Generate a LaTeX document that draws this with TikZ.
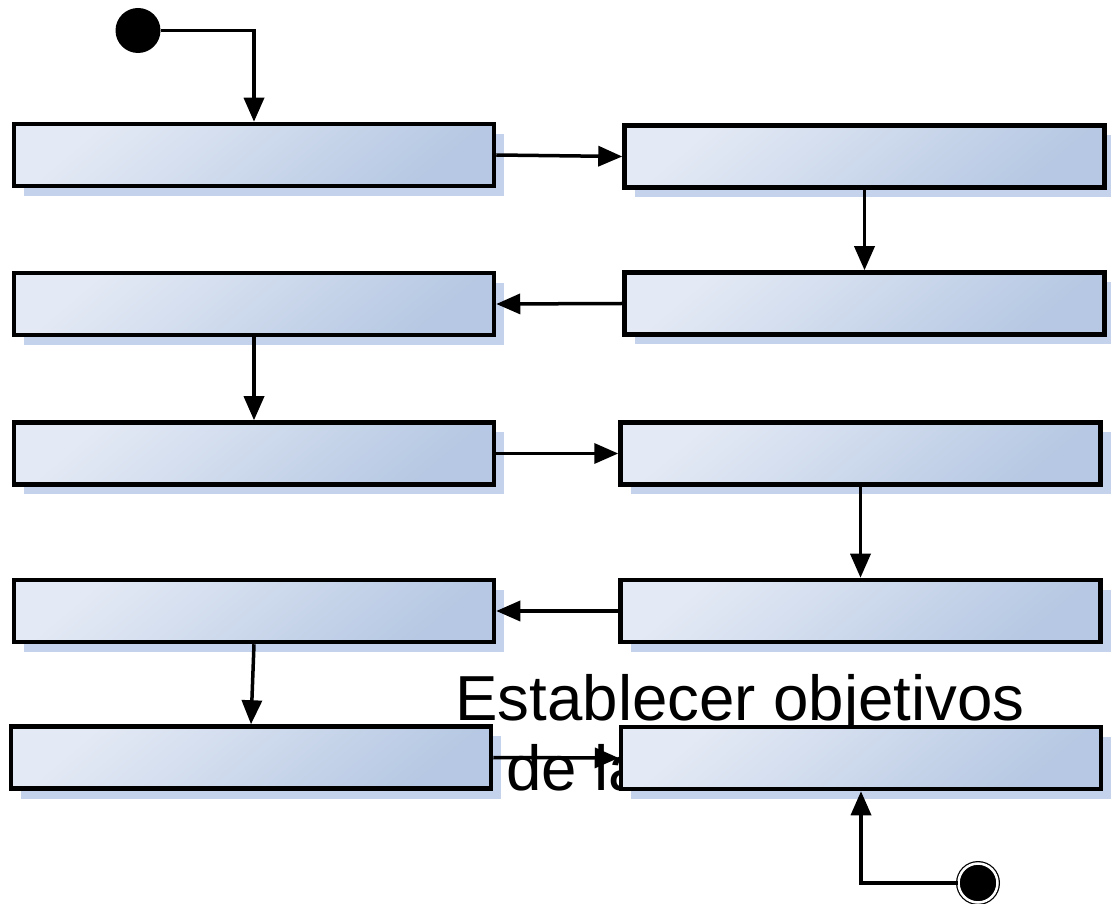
\documentclass[tikz,border=0pt]{standalone}
\usepackage{fontspec}
\setmainfont{Liberation Sans}
\usetikzlibrary{arrows.meta,shadows}

\definecolor{boxlight}{RGB}{228,234,245}
\definecolor{boxdark}{RGB}{182,200,227}
\definecolor{shadowblue}{RGB}{196,210,236}

\tikzset{
  activity/.style={rectangle, draw=black, line width=0.09cm, inner sep=0pt,
    minimum width=9.6cm, minimum height=1.24cm,
    top color=boxlight, bottom color=boxdark, shading angle=40,
    drop shadow={shadow xshift=0.2cm, shadow yshift=-0.2cm, fill=shadowblue, opacity=1}},
  flow/.style={line width=0.07cm, -{Triangle[length=0.48cm,width=0.4cm]}},
  initial/.style={circle, fill=black, minimum size=0.9cm, inner sep=0pt},
  final/.style={circle, draw=black, line width=0.7pt, double=white, double distance=0.05cm,
    fill=black, minimum size=0.78cm, inner sep=0pt},
  bigtext/.style={anchor=base west, inner sep=0pt, font=\fontsize{36.2}{40}\selectfont}
}

\begin{document}
\begin{tikzpicture}
\useasboundingbox (0,0) rectangle (22.22,-18.08);
% text that sits behind the boxes
\node[bigtext] (aimtitle) at (9.10,-14.42) {Establecer objetivos};
\node[bigtext] (aimrest) at (10.12,-15.80) {de la};
% left column
\node[activity] (L1) at (5.08,-3.10) {};
\node[activity] (L2) at (5.08,-6.08) {};
\node[activity] (L3) at (5.08,-9.07) {};
\node[activity] (L4) at (5.08,-12.22) {};
\node[activity] (L5) at (5.02,-15.15) {};
% right column
\node[activity] (R1) at (17.29,-3.13) {};
\node[activity] (R2) at (17.29,-6.07) {};
\node[activity] (R3) at (17.21,-9.07) {};
\node[activity] (R4) at (17.21,-12.22) {};
\node[activity] (R5) at (17.22,-15.16) {};
% start and end
\node[initial] (start) at (2.76,-0.61) {};
\node[final] (finish) at (19.56,-17.66) {};
% zig-zag flow
\draw[flow] (start) -| (L1.north);
\draw[flow] (L1.east) -- (R1.west);
\draw[flow] (R1.south) -- (R2.north);
\draw[flow] (R2.west) -- (L2.east);
\draw[flow] (L2.south) -- (L3.north);
\draw[flow] (L3.east) -- (R3.west);
\draw[flow] (R3.south) -- (R4.north);
\draw[flow] (R4.west) -- (L4.east);
\draw[flow] (L4.south) -- (L5.north);
\draw[flow] (L5.east) -- (R5.west);
\draw[flow] (finish) -| (R5.south);
\end{tikzpicture}
\end{document}
